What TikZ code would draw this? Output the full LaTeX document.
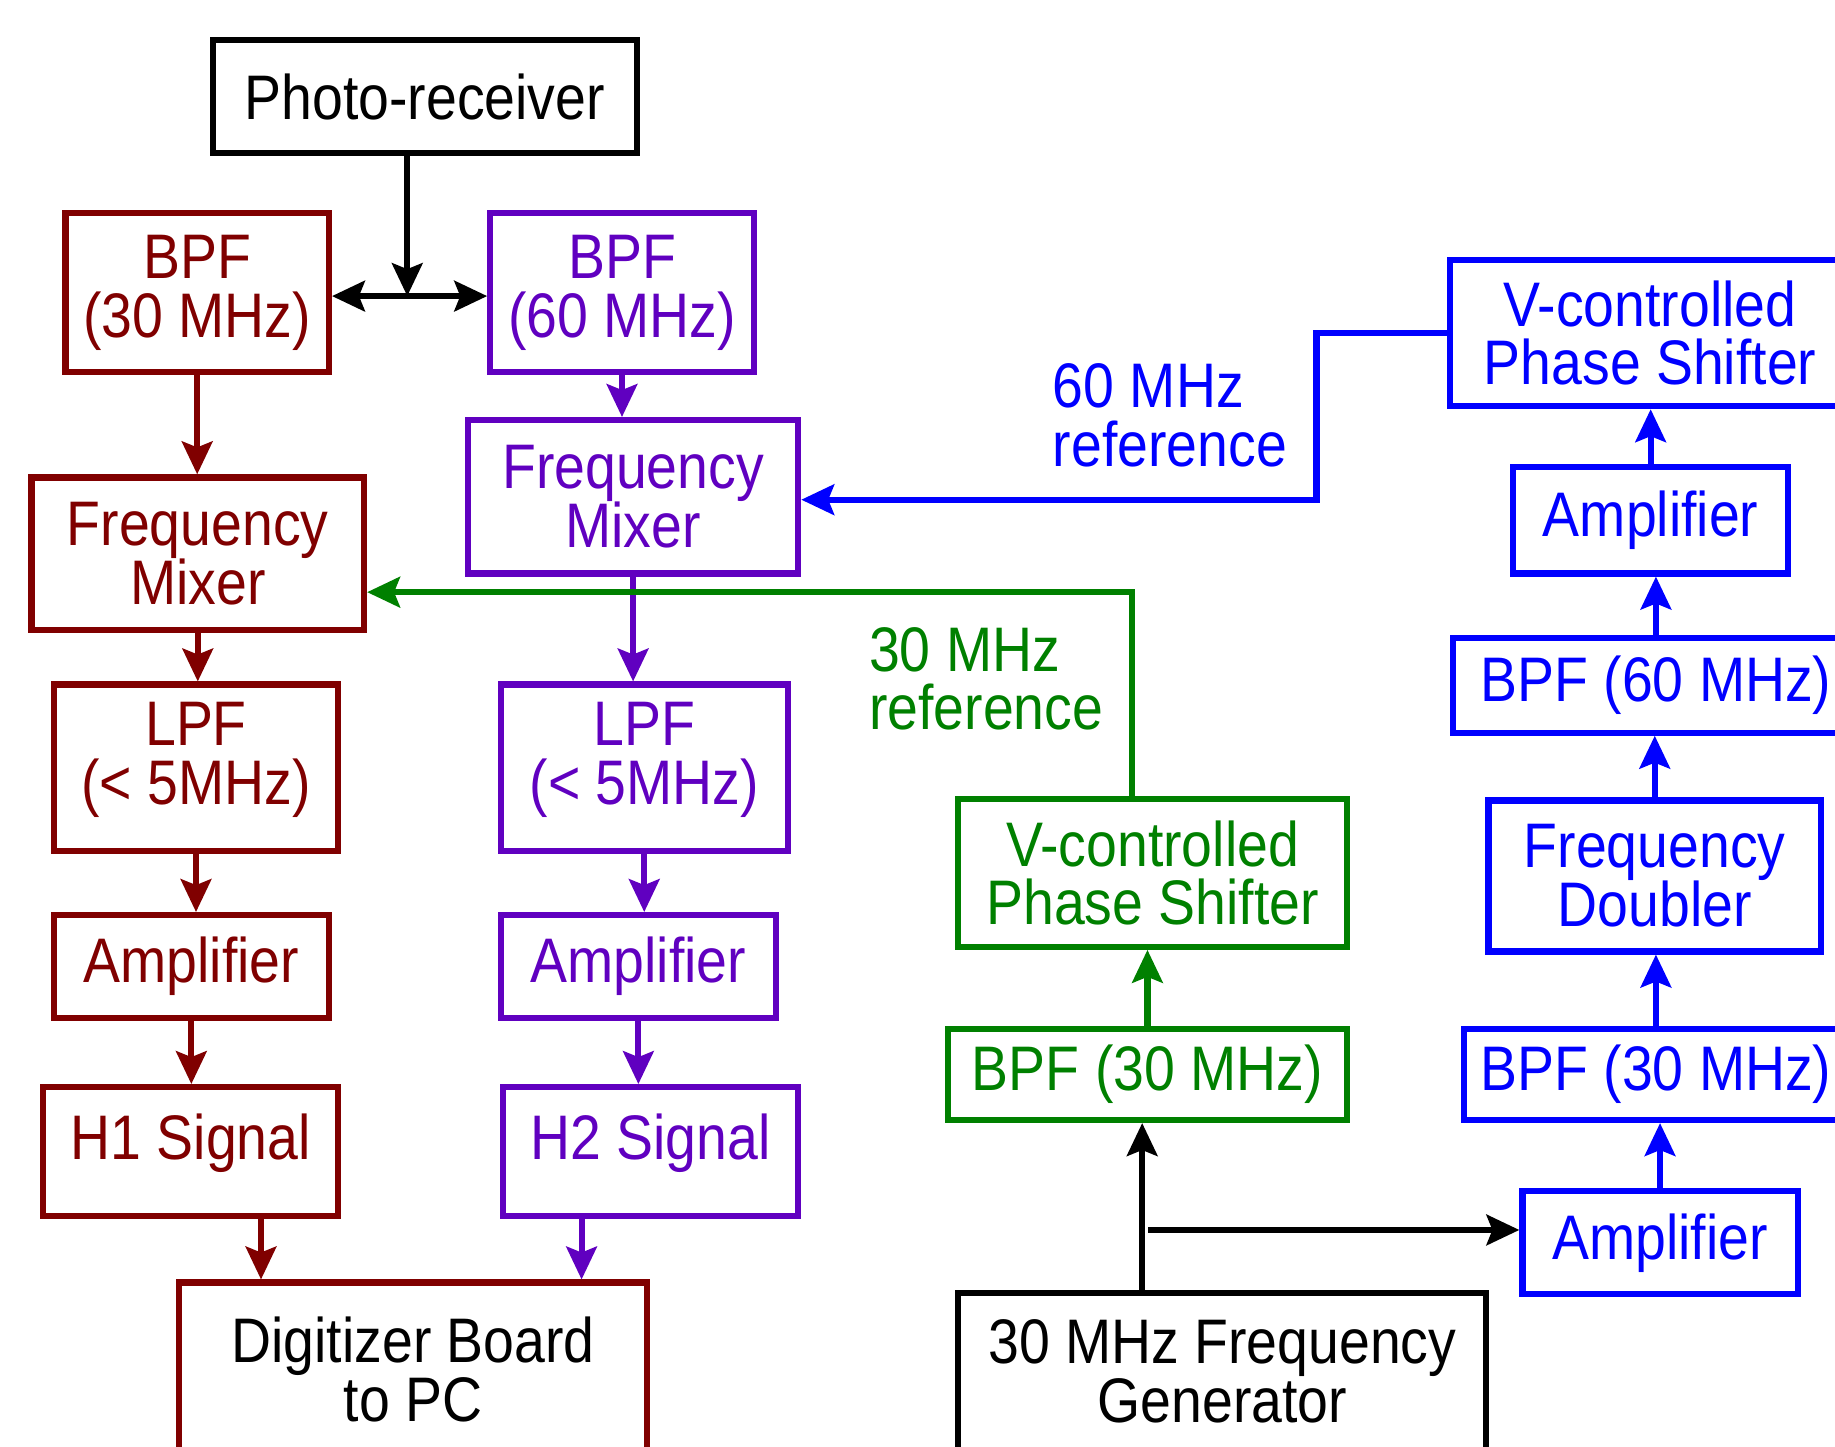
\documentclass[tikz,border=0pt]{standalone}
\usepackage{fontspec}
\setmainfont{Liberation Sans}[FakeStretch=0.88]
\usetikzlibrary{arrows.meta}
\definecolor{sigbrown}{HTML}{800000}
\definecolor{sigpurple}{HTML}{6000C0}
\definecolor{refgreen}{HTML}{008000}
\definecolor{refblue}{HTML}{0000FF}

\begin{document}
\begin{tikzpicture}[x=0.01cm, y=-0.01cm,
      box/.style={rectangle, draw, line width=1.5pt, inner sep=0pt, align=center, font=\fontsize{15.3}{14.3}\selectfont},
      brbox/.style={box, draw=sigbrown, text=sigbrown},
      pubox/.style={box, draw=sigpurple, text=sigpurple},
      grbox/.style={box, draw=refgreen, text=refgreen},
      blbox/.style={box, draw=refblue, text=refblue},
      kbox/.style={box, draw=black, text=black},
      reftext/.style={inner sep=0pt, anchor=west, align=left, font=\fontsize{15.3}{14.3}\selectfont},
      arrow/.style={-{Stealth[length=2.8mm, width=2.6mm, inset=0.5mm]}, line width=1.5pt},
    ]
    \path[use as bounding box] (0,0) rectangle (1568,1236);
    \clip (0,0) rectangle (1568,1236);

    \node[kbox, minimum width=3.62cm, minimum height=0.97cm] (photo) at (363,82.5) {Photo-receiver};

    % H1 chain
    \node[brbox, minimum width=2.25cm, minimum height=1.36cm] (bpf30) at (168.5,250) {BPF\\(30 MHz)};
    \node[brbox, minimum width=2.84cm, minimum height=1.30cm] (mix1) at (169,473) {Frequency\\Mixer};
    \node[brbox, minimum width=2.43cm, minimum height=1.42cm, text depth=0.25cm] (lpf1) at (167.5,656) {LPF\\(< 5MHz)};
    \node[brbox, minimum width=2.35cm, minimum height=0.88cm] (amp1) at (163.5,826) {Amplifier};
    \node[brbox, minimum width=2.52cm, minimum height=1.10cm, text depth=0.25cm] (h1) at (163,984) {H1 Signal};
    \node[kbox, draw=sigbrown, minimum width=4.00cm, minimum height=1.48cm] (dig) at (353,1170) {Digitizer Board\\to PC};

    % H2 chain
    \node[pubox, minimum width=2.25cm, minimum height=1.36cm] (bpf60) at (531.5,250) {BPF\\(60 MHz)};
    \node[pubox, minimum width=2.82cm, minimum height=1.31cm] (mix2) at (541,424.5) {Frequency\\Mixer};
    \node[pubox, minimum width=2.45cm, minimum height=1.42cm, text depth=0.25cm] (lpf2) at (550.5,656) {LPF\\(< 5MHz)};
    \node[pubox, minimum width=2.35cm, minimum height=0.88cm] (amp2) at (545.5,826) {Amplifier};
    \node[pubox, minimum width=2.52cm, minimum height=1.10cm, text depth=0.25cm] (h2) at (556,984) {H2 Signal};

    % 30 MHz reference
    \node[kbox, minimum width=4.51cm, minimum height=1.34cm] (gen) at (1044.5,1172) {30 MHz Frequency\\Generator};
    \node[grbox, minimum width=3.41cm, minimum height=0.78cm] (gbpf) at (980.5,918) {BPF (30 MHz)};
    \node[grbox, minimum width=3.32cm, minimum height=1.26cm] (gps) at (985,746) {V-controlled\\Phase Shifter};
    \node[reftext, text=refgreen] (ref30) at (742,580) {30 MHz\\reference};

    % 60 MHz reference
    \node[blbox, minimum width=2.35cm, minimum height=0.88cm] (bamp2) at (1418.5,1062) {Amplifier};
    \node[blbox, minimum width=3.28cm, minimum height=0.78cm] (bbpf30) at (1415,918) {BPF (30 MHz)};
    \node[blbox, minimum width=2.84cm, minimum height=1.29cm] (dbl) at (1414,748.5) {Frequency\\Doubler};
    \node[blbox, minimum width=3.46cm, minimum height=0.81cm] (bbpf60) at (1415,585.5) {BPF (60 MHz)};
    \node[blbox, minimum width=2.35cm, minimum height=0.91cm] (bamp1) at (1410.5,444.5) {Amplifier};
    \node[blbox, minimum width=3.42cm, minimum height=1.25cm] (bps) at (1410,284.5) {V-controlled\\Phase Shifter};
    \node[reftext, text=refblue] (ref60) at (899,355) {60 MHz\\reference};

    \coordinate (split) at (348,253);
    \coordinate (gref) at (967,506);
    \coordinate (bref) at (1125,427);
    \coordinate (gsplit) at (976,1051);

    \draw[arrow] (photo.south -| split) -- (split);
    \draw[arrow] (split) -- (split -| bpf30.east);
    \draw[arrow] (split) -- (split -| bpf60.west);

    \draw[arrow, sigbrown] (bpf30.south) -- (bpf30.south |- mix1.north);
    \draw[arrow, sigbrown] (mix1.south) -- (mix1.south |- lpf1.north);
    \draw[arrow, sigbrown] (lpf1.south) -- (lpf1.south |- amp1.north);
    \draw[arrow, sigbrown] (amp1.south) -- (amp1.south |- h1.north);
    \draw[arrow, sigbrown] ([xshift=0.6cm]h1.south) -- ([xshift=0.6cm]h1.south |- dig.north);

    \draw[arrow, sigpurple] (bpf60.south) -- (bpf60.south |- mix2.north);
    \draw[arrow, sigpurple] (mix2.south) -- (mix2.south |- lpf2.north);
    \draw[arrow, sigpurple] (lpf2.south) -- (lpf2.south |- amp2.north);
    \draw[arrow, sigpurple] (amp2.south) -- (amp2.south |- h2.north);
    \draw[arrow, sigpurple] ([xshift=-0.59cm]h2.south) -- ([xshift=-0.59cm]h2.south |- dig.north);

    \draw[arrow] (gen.north -| gsplit) -- (gsplit |- gbpf.south);
    \draw[arrow] ([xshift=0.05cm]gsplit) -- (gsplit -| bamp2.west);
    \draw[arrow, refgreen] (gbpf.north) -- (gbpf.north |- gps.south);
    \draw[arrow, refgreen] (gps.north -| gref) -- (gref) -- (gref -| mix1.east);

    \draw[arrow, refblue] (bamp2.north) -- (bamp2.north |- bbpf30.south);
    \draw[arrow, refblue] (bbpf30.north) -- (bbpf30.north |- dbl.south);
    \draw[arrow, refblue] (dbl.north) -- (dbl.north |- bbpf60.south);
    \draw[arrow, refblue] (bbpf60.north) -- (bbpf60.north |- bamp1.south);
    \draw[arrow, refblue] (bamp1.north) -- (bamp1.north |- bps.south);
    \draw[arrow, refblue] (bps.west) -| (bref) -- (bref -| mix2.east);
  \end{tikzpicture}
\end{document}
